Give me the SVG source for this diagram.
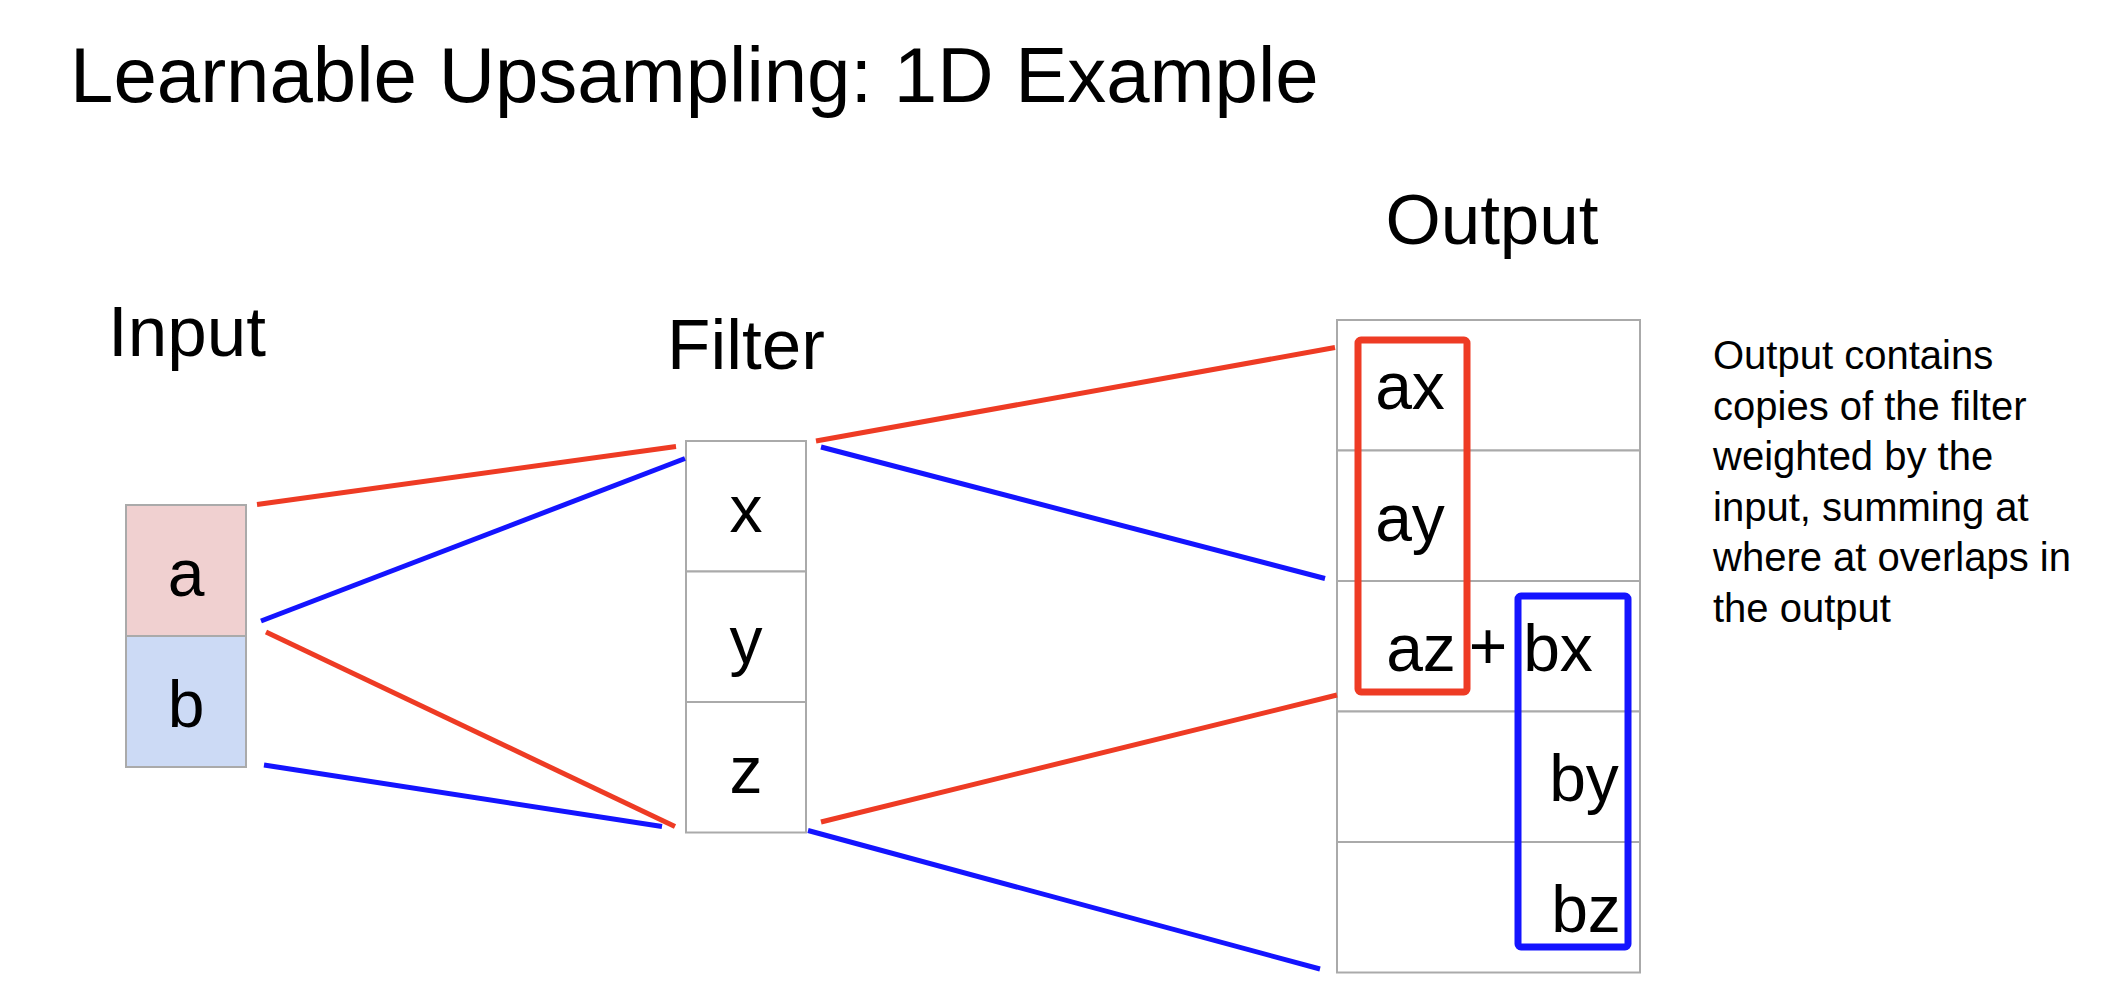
<svg xmlns="http://www.w3.org/2000/svg" width="2128" height="988" viewBox="0 0 2128 988">
<style>
text{font-family:"Liberation Sans",Arial,sans-serif;fill:#000}
.title{font-size:78px}
.lbl{font-size:71px;text-anchor:middle}
.cell{font-size:66px;text-anchor:middle}
.note{font-size:40px}
.box{stroke:#aaaaaa;stroke-width:2}
.red{stroke:#ee3b24;stroke-width:5;fill:none}
.blue{stroke:#1414ff;stroke-width:5;fill:none}
</style>
<rect width="2128" height="988" fill="#fff"/>
<text class="title" x="70" y="102">Learnable Upsampling: 1D Example</text>

<g id="input">
<text class="lbl" x="187" y="356">Input</text>
<rect class="box" x="126" y="505" width="120" height="131" fill="#f0d0d0"/>
<rect class="box" x="126" y="636" width="120" height="131" fill="#ccdaf5"/>
<text class="cell" x="186" y="596">a</text>
<text class="cell" x="186" y="727">b</text>
</g>

<g id="filter">
<text class="lbl" x="746" y="369">Filter</text>
<rect class="box" x="686" y="441" width="120" height="130.5" fill="#fff"/>
<rect class="box" x="686" y="571.5" width="120" height="130.5" fill="#fff"/>
<rect class="box" x="686" y="702" width="120" height="130.5" fill="#fff"/>
<text class="cell" x="746" y="532">x</text>
<text class="cell" x="746" y="663">y</text>
<text class="cell" x="746" y="793">z</text>
</g>

<g id="output">
<text class="lbl" x="1492" y="244">Output</text>
<rect class="box" x="1337" y="320" width="303" height="130.5" fill="#fff"/>
<rect class="box" x="1337" y="450.5" width="303" height="130.5" fill="#fff"/>
<rect class="box" x="1337" y="581" width="303" height="130.5" fill="#fff"/>
<rect class="box" x="1337" y="711.5" width="303" height="130.5" fill="#fff"/>
<rect class="box" x="1337" y="842" width="303" height="130.5" fill="#fff"/>
<text class="cell" x="1410" y="409">ax</text>
<text class="cell" x="1410" y="541">ay</text>
<text class="cell" x="1421" y="671">az</text>
<text class="cell" x="1488" y="669">+</text>
<text class="cell" x="1558" y="671">bx</text>
<text class="cell" x="1584" y="801">by</text>
<text class="cell" x="1586" y="932">bz</text>
</g>

<g id="red-copy">
<rect class="red" x="1358" y="340" width="109" height="352" rx="3" style="stroke-width:7"/>
</g>
<g id="blue-copy">
<rect class="blue" x="1518" y="596" width="110" height="351" rx="3" style="stroke-width:7"/>
</g>

<g id="connectors">
<line class="red" x1="257" y1="504.5" x2="676" y2="446.5"/>
<line class="blue" x1="261" y1="621" x2="685" y2="458.5"/>
<line class="red" x1="266" y1="632" x2="675" y2="826.5"/>
<line class="blue" x1="264" y1="765" x2="662" y2="826.5"/>
<line class="red" x1="816" y1="441" x2="1335" y2="347.5"/>
<line class="blue" x1="821" y1="447" x2="1325" y2="578.5"/>
<line class="red" x1="821" y1="822" x2="1337" y2="695"/>
<line class="blue" x1="808" y1="830.5" x2="1320" y2="969"/>
</g>

<g id="note">
<text class="note" x="1713" y="369">Output contains</text>
<text class="note" x="1713" y="420">copies of the filter</text>
<text class="note" x="1713" y="470">weighted by the</text>
<text class="note" x="1713" y="521">input, summing at</text>
<text class="note" x="1713" y="571">where at overlaps in</text>
<text class="note" x="1713" y="622">the output</text>
</g>
</svg>
